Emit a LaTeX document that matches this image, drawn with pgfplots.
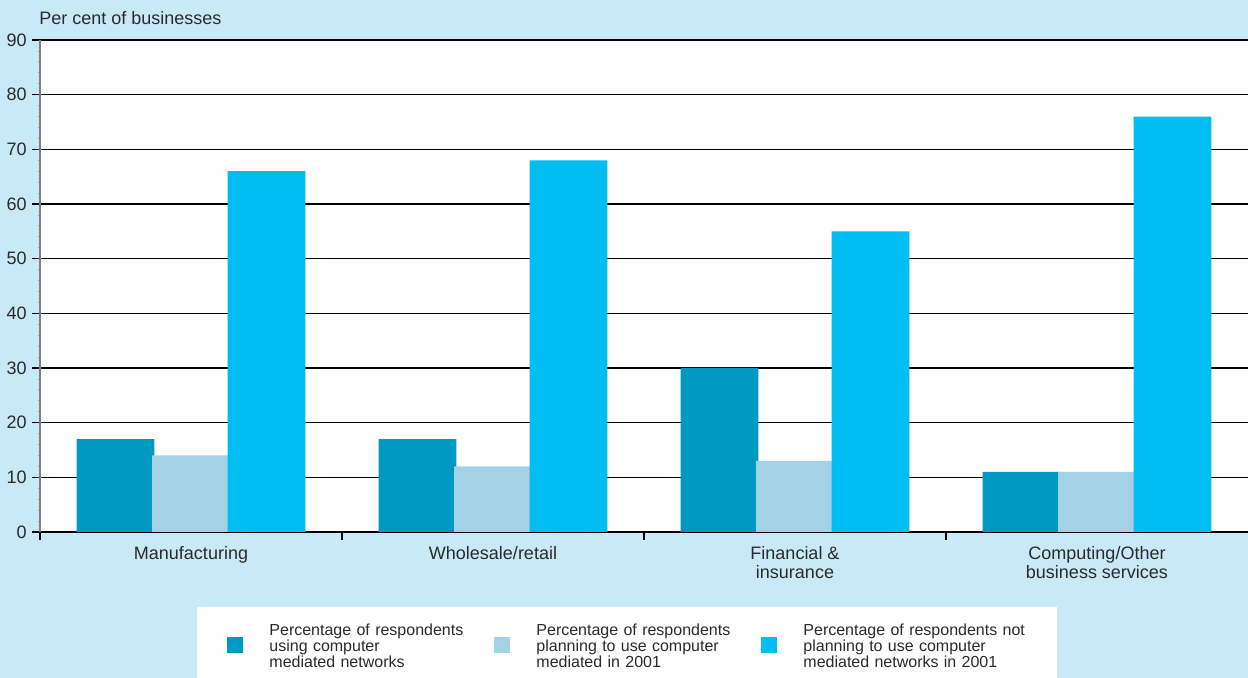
\documentclass[border=0pt]{standalone}
\usepackage{pgfplots}
\usepackage{pgfplotstable}
\pgfplotsset{compat=1.18}
\usepackage{fontspec}
\setmainfont{Liberation Sans}

\definecolor{bgblue}{HTML}{C8E9F8}
\definecolor{netuse}{HTML}{0099C2}
\definecolor{netplan}{HTML}{A3D1E5}
\definecolor{netnot}{HTML}{00BDF2}
\definecolor{txt}{HTML}{2B2B2B}

% Share of businesses by sector (per cent)
\pgfplotstableread{
cat use plan none
0   17  14   66
1   17  12   68
2   30  13   55
3   11  11   76
}\sectordata

\begin{document}
\begin{tikzpicture}
\fill[bgblue] (0,0) rectangle (624pt,339pt);
\begin{axis}[
  at={(20pt,73pt)}, anchor=south west,
  scale only axis, width=604pt, height=246pt,
  xmin=-0.5, xmax=3.5, ymin=0, ymax=90,
  axis background/.style={fill=white},
  axis x line*=bottom, axis y line*=left,
  x axis line style={black, line width=0.75pt},
  y axis line style={gray, line width=0.75pt},
  tick align=outside,
  major tick length=4pt,
  minor tick length=1.2pt,
  xtick={0,1,2,3},
  xticklabels={Manufacturing, Wholesale/retail, {Financial \&\\insurance}, {Computing/Other\\business services}},
  x tick label style={align=center, font=\fontsize{9}{9.5}\selectfont, text=txt, inner sep=0pt, yshift=-3pt},
  major x tick style={draw=none},
  extra x ticks={-0.5,0.5,1.5,2.5},
  extra x tick labels={},
  extra x tick style={major x tick style={draw=black, line width=0.6pt}},
  ytick={0,10,...,90},
  minor y tick num=4,
  minor y tick style={gray!70, line width=0.4pt},
  major y tick style={black, line width=0.6pt},
  ymajorgrids,
  y grid style={black, line width=0.6pt},
  yticklabel style={font=\fontsize{9}{10}\selectfont, text=txt, inner sep=0pt, xshift=-2.5pt},
  /pgf/number format/assume math mode=true,
  title={Per cent of businesses},
  title style={at={(0,1)}, anchor=base west, yshift=1.5pt, xshift=-0.5pt, inner sep=0pt,
    font=\fontsize{9}{10}\selectfont, text=txt},
  legend columns=3,
  legend style={at={(axis description cs:0.13,-0.1524)}, anchor=north west,
    draw=none, fill=white, inner xsep=15pt, inner ysep=6pt,
    font=\fontsize{8}{8}\selectfont, text=txt,
    nodes={text width=112pt, align=left, inner sep=0pt},
    /tikz/every odd column/.append style={column sep=13pt},
    /tikz/every even column/.append style={column sep=0.5pt}},
  legend image code/.code={%
    \path (0pt,-24pt) (8pt,6pt);
    \fill[#1] (0pt,-10.75pt) rectangle (8pt,-2.75pt);},
]
\addplot[ybar, fill=netuse, draw=none, bar width=0.257, bar shift=-0.25]
  table[x=cat, y=use] {\sectordata};
\addlegendentry{Percentage of respondents\\using computer\\mediated networks}
\addplot[ybar, fill=netplan, draw=none, bar width=0.257, bar shift=0]
  table[x=cat, y=plan] {\sectordata};
\addlegendentry{Percentage of respondents\\planning to use computer\\mediated in 2001}
\addplot[ybar, fill=netnot, draw=none, bar width=0.257, bar shift=0.25]
  table[x=cat, y=none] {\sectordata};
\addlegendentry{Percentage of respondents not\\planning to use computer\\mediated networks in 2001}
\end{axis}
\pgfresetboundingbox
\path[use as bounding box] (0,0) rectangle (624pt,339pt);
\end{tikzpicture}
\end{document}
